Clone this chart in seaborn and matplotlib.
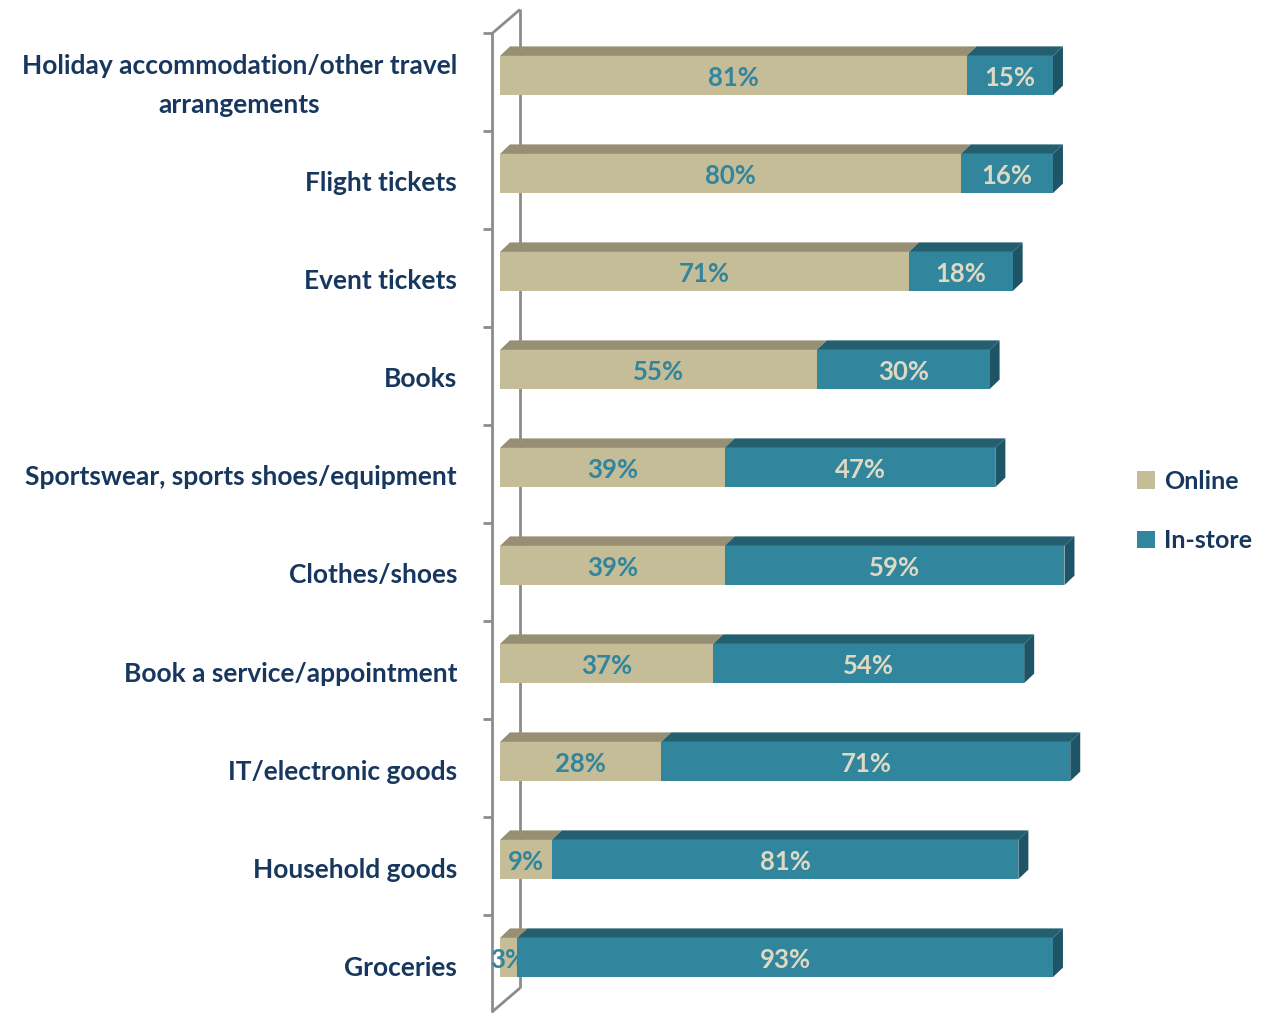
import numpy as np
import pandas as pd
import matplotlib
matplotlib.use("Agg")
import matplotlib.pyplot as plt
from matplotlib.patches import Polygon, Patch
from matplotlib.lines import Line2D
import seaborn as sns

# ---- data -------------------------------------------------------------
categories = [
    "Holiday accommodation/other travel\narrangements",
    "Flight tickets",
    "Event tickets",
    "Books",
    "Sportswear, sports shoes/equipment",
    "Clothes/shoes",
    "Book a service/appointment",
    "IT/electronic goods",
    "Household goods",
    "Groceries",
]
online = [81, 80, 71, 55, 39, 39, 37, 28, 9, 3]
instore = [15, 16, 18, 30, 47, 59, 54, 71, 81, 93]
series_names = ["Online", "In-store"]

df = pd.DataFrame({"category": categories, "online": online, "instore": instore})
df["total"] = df["online"] + df["instore"]

# ---- styling ----------------------------------------------------------
sns.set_theme(style="white")
plt.rcParams["font.family"] = ["Lato", "DejaVu Sans"]

TAN = "#C4BD97"
TAN_TOP = "#978F74"
TEAL = "#31859C"
TEAL_TOP = "#235F6F"
TEAL_SIDE = "#1E5566"
NAVY = "#17375E"
CREAM = "#DDD9C3"
WALL = "#8C8C8C"

W, H, DPI = 1261, 1013, 100
fig = plt.figure(figsize=(W / DPI, H / DPI), dpi=DPI)
ax = fig.add_axes([500 / W, 6.5 / H, 576 / W, 980 / H])

BAR_W = 0.4
# stacked bars: full total in teal, online share drawn over it
sns.barplot(data=df, x="total", y="category", color=TEAL, orient="h",
            width=BAR_W, saturation=1, linewidth=0, ax=ax, zorder=3)
sns.barplot(data=df, x="online", y="category", color=TAN, orient="h",
            width=BAR_W, saturation=1, linewidth=0, ax=ax, zorder=4)

ax.set_xlim(0, 100)
ax.set_ylim(len(categories) - 0.5, -0.5)
ax.axis("off")

# pixel <-> data helpers for the depth effect
px_per_x = 576 / 100.0
px_per_y = 980 / len(categories)
DX = 10 / px_per_x          # depth offset to the right (data units)
DY = 9.5 / px_per_y         # depth offset upwards (data units)

n = len(categories)
for i in range(n):
    o = df["online"][i]
    t = df["total"][i]
    top = i - BAR_W / 2
    bot = i + BAR_W / 2
    # top faces
    ax.add_patch(Polygon([(0, top), (o, top), (o + DX, top - DY), (DX, top - DY)],
                         closed=True, fc=TAN_TOP, ec="none", zorder=2, clip_on=False))
    ax.add_patch(Polygon([(o, top), (t, top), (t + DX, top - DY), (o + DX, top - DY)],
                         closed=True, fc=TEAL_TOP, ec="none", zorder=2, clip_on=False))
    # right face
    ax.add_patch(Polygon([(t, top), (t, bot), (t + DX, bot - DY), (t + DX, top - DY)],
                         closed=True, fc=TEAL_SIDE, ec="none", zorder=2, clip_on=False))

    # value labels
    ax.text(o / 2, i + 0.025, f"{o}%", ha="center", va="center", color=TEAL,
            fontsize=18.5, fontweight="bold", zorder=6, clip_on=False)
    ax.text(o + (t - o) / 2, i + 0.025, f"{instore[i]}%", ha="center", va="center",
            color=CREAM, fontsize=18.5, fontweight="bold", zorder=6, clip_on=False)

    # category labels
    ax.text(-43 / px_per_x, i + 10 / px_per_y, categories[i], ha="right", va="center",
            multialignment="center", color=NAVY, fontsize=19, fontweight="bold",
            linespacing=1.75, clip_on=False)

# wall: front and back edges with category tick marks
fx = -8 / px_per_x
bx = 20 / px_per_x
wall_top = -0.5 + 7 / px_per_y
wall_bot = n - 0.5 + 5.5 / px_per_y
wdy = 24 / px_per_y
kw = dict(color=WALL, lw=2, clip_on=False, solid_capstyle="butt")
ax.add_line(Line2D([fx, fx], [wall_top, wall_bot], zorder=5, **kw))
ax.add_line(Line2D([bx, bx], [wall_top - wdy, wall_bot - wdy], zorder=1, **kw))
ax.add_line(Line2D([fx, bx], [wall_top, wall_top - wdy], zorder=1, **kw))
ax.add_line(Line2D([fx, bx], [wall_bot, wall_bot - wdy], zorder=1, **kw))
for k in range(n):
    yk = wall_top + k
    ax.add_line(Line2D([fx - 9 / px_per_x, fx], [yk, yk], zorder=5, **kw))

# legend
handles = [Patch(fc=TAN, ec="none"), Patch(fc=TEAL, ec="none")]
leg = fig.legend(handles, series_names, loc="center left",
                 bbox_to_anchor=(1137 / W, 1 - 511 / H), frameon=False,
                 borderpad=0, borderaxespad=0,
                 handlelength=0.7, handleheight=0.7, handletextpad=0.4,
                 labelspacing=1.45, prop={"size": 18, "weight": "bold"})
for txt in leg.get_texts():
    txt.set_color(NAVY)

fig.savefig("out.png", dpi=DPI)
